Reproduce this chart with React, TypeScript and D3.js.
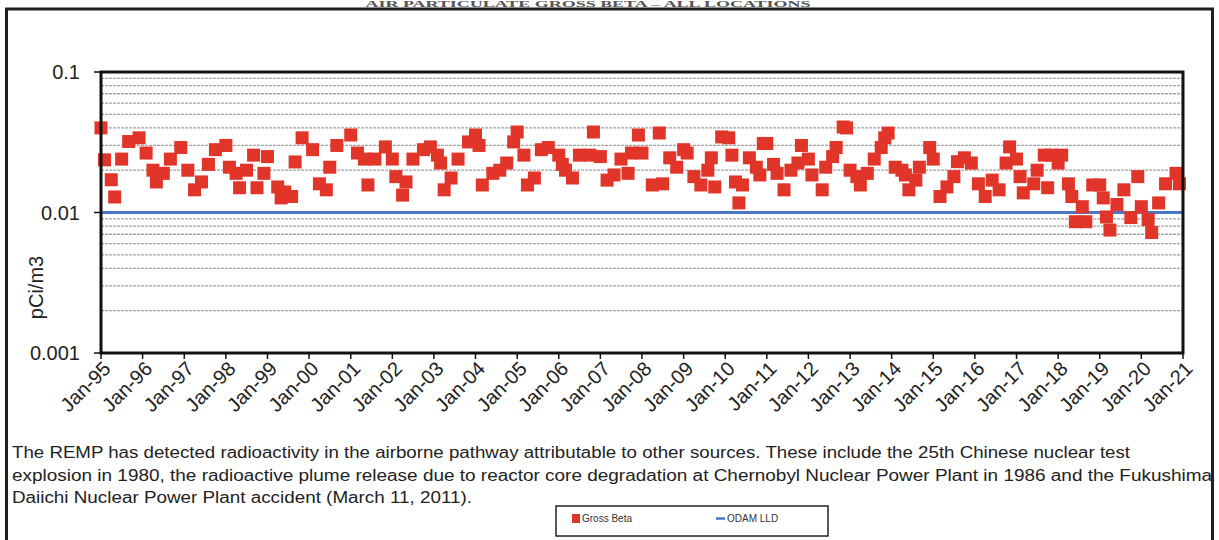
import React from "react";
import * as d3 from "d3";

// Gross beta readings (month, pCi/m3)
const grossBetaMonths = [
  "1995-01", "1995-02", "1995-04", "1995-05", "1995-07", "1995-09", "1995-12",
  "1996-02", "1996-04", "1996-05", "1996-07", "1996-09", "1996-12",
  "1997-02", "1997-04", "1997-06", "1997-08", "1997-10",
  "1998-01", "1998-02", "1998-04", "1998-05", "1998-07", "1998-09", "1998-10", "1998-12",
  "1999-01", "1999-04", "1999-05", "1999-06", "1999-08", "1999-09", "1999-11",
  "2000-02", "2000-04", "2000-06", "2000-07", "2000-09",
  "2001-01", "2001-03", "2001-05", "2001-06", "2001-08", "2001-11",
  "2002-01", "2002-02", "2002-04", "2002-05", "2002-07", "2002-10", "2002-12",
  "2003-02", "2003-03", "2003-04", "2003-06", "2003-08", "2003-11",
  "2004-01", "2004-02", "2004-03", "2004-06", "2004-08", "2004-10", "2004-12",
  "2005-01", "2005-03", "2005-04", "2005-06", "2005-08", "2005-10",
  "2006-01", "2006-02", "2006-03", "2006-05", "2006-07", "2006-10", "2006-11",
  "2007-01", "2007-03", "2007-05", "2007-07", "2007-09", "2007-10", "2007-12",
  "2008-01", "2008-04", "2008-06", "2008-07", "2008-09", "2008-11",
  "2009-01", "2009-02", "2009-04", "2009-06", "2009-08", "2009-09", "2009-10", "2009-12",
  "2010-02", "2010-03", "2010-04", "2010-05", "2010-06", "2010-08", "2010-10", "2010-11", "2010-12",
  "2011-01", "2011-03", "2011-04", "2011-06", "2011-08", "2011-10", "2011-11",
  "2012-01", "2012-02", "2012-05", "2012-06", "2012-08", "2012-09", "2012-11", "2012-12",
  "2013-01", "2013-03", "2013-04", "2013-06", "2013-08", "2013-10", "2013-11", "2013-12",
  "2014-02", "2014-04", "2014-05", "2014-06", "2014-08", "2014-09", "2014-12",
  "2015-01", "2015-03", "2015-05", "2015-07", "2015-08", "2015-10", "2015-12",
  "2016-02", "2016-04", "2016-06", "2016-08", "2016-10", "2016-11",
  "2017-01", "2017-02", "2017-03", "2017-06", "2017-07", "2017-09", "2017-10", "2017-11",
  "2018-01", "2018-02", "2018-04", "2018-05", "2018-06", "2018-08", "2018-09", "2018-11",
  "2019-01", "2019-02", "2019-03", "2019-04", "2019-06", "2019-08", "2019-10", "2019-12",
  "2020-01", "2020-03", "2020-04", "2020-06", "2020-08", "2020-11", "2020-12",
];

const grossBetaValues = [
  0.040, 0.0237, 0.0171, 0.0129, 0.024, 0.032, 0.034,
  0.0265, 0.020, 0.0165, 0.019, 0.024, 0.029,
  0.020, 0.0145, 0.0165, 0.022, 0.028,
  0.030, 0.021, 0.019, 0.015, 0.020, 0.0256, 0.015, 0.019,
  0.025, 0.0152, 0.0127, 0.014, 0.013, 0.0229, 0.034,
  0.028, 0.016, 0.0145, 0.021, 0.030,
  0.0356, 0.0265, 0.024, 0.0157, 0.024, 0.0293,
  0.024, 0.018, 0.0133, 0.0165, 0.024, 0.028, 0.0293,
  0.0256, 0.0225, 0.0145, 0.0176, 0.024, 0.0318,
  0.0356, 0.030, 0.0157, 0.019, 0.020, 0.0225, 0.0318,
  0.0374, 0.0256, 0.0157, 0.0176, 0.028, 0.029,
  0.0256, 0.022, 0.020, 0.0176, 0.0256, 0.0256, 0.0374,
  0.025, 0.017, 0.0185, 0.024, 0.019, 0.0265, 0.0356,
  0.0265, 0.0157, 0.0368, 0.016, 0.0245, 0.021,
  0.028, 0.0265, 0.018, 0.0157, 0.020, 0.0245, 0.0152, 0.0345,
  0.034, 0.0256, 0.0165, 0.0117, 0.0157, 0.0245, 0.021, 0.0185, 0.031,
  0.031, 0.022, 0.019, 0.0145, 0.020, 0.0225, 0.030,
  0.024, 0.0185, 0.0145, 0.021, 0.025, 0.029, 0.0406, 0.040,
  0.020, 0.018, 0.0157, 0.019, 0.024, 0.029, 0.034, 0.0368,
  0.021, 0.020, 0.0185, 0.0145, 0.017, 0.021, 0.029,
  0.024, 0.013, 0.0152, 0.018, 0.023, 0.0245, 0.0225,
  0.016, 0.013, 0.017, 0.0145, 0.0225, 0.0293,
  0.024, 0.018, 0.0138, 0.016, 0.020, 0.0256, 0.015, 0.0256,
  0.0225, 0.0256, 0.016, 0.013, 0.0086, 0.011, 0.0086, 0.0157,
  0.0157, 0.0127, 0.0093, 0.0075, 0.0114, 0.0145, 0.0092, 0.018,
  0.011, 0.0089, 0.0072, 0.0117, 0.016, 0.019, 0.016,
];

const lldValue = 0.01;
const yTickValues = [0.001, 0.01, 0.1];
const seriesNames = ["Gross Beta", "ODAM LLD"];
const titleText = "AIR PARTICULATE GROSS BETA \u2013 ALL LOCATIONS";
const noteLines = [
  "The REMP has detected radioactivity in the airborne pathway attributable to other sources. These include the 25th Chinese nuclear test",
  "explosion  in 1980, the radioactive plume release due to reactor core degradation at Chernobyl Nuclear Power Plant in 1986 and the Fukushima",
  "Daiichi Nuclear Power Plant accident (March 11, 2011).",
];
const noteWidths = [1118, 1200, 460];

const W = 1219;
const H = 540;
const plot = { left: 101, right: 1183, top: 72, bottom: 353 };
const RED = "#e2352a";
const BLUE = "#4a76c6";
const FONT = "Arial, 'Liberation Sans', sans-serif";

const parseMonth = d3.timeParse("%Y-%m");
const fmt = d3.timeFormat("%b-%y");

export default function App() {
  const x = d3
    .scaleTime()
    .domain([new Date(1995, 0, 1), new Date(2021, 0, 1)])
    .range([plot.left, plot.right]);
  const y = d3
    .scaleLog()
    .domain([0.001, 0.1])
    .range([plot.bottom, plot.top]);

  const yearTicks = x.ticks(d3.timeYear.every(1));

  // minor gridlines 2..9 of each decade plus the top
  const grid: number[] = [];
  [0.001, 0.01].forEach((d) => {
    for (let k = 2; k <= 9; k++) grid.push(d * k);
  });
  grid.push(0.1);

  const points = grossBetaMonths.map((m, i) => ({
    date: parseMonth(m) as Date,
    value: grossBetaValues[i],
  }));
  const sz = 13;

  return (
    <svg
      width={W}
      height={H}
      style={{ position: "absolute", left: 0, top: 0, background: "#fff" }}
      fontFamily={FONT}
    >
      <text
        x={588}
        y={7}
        textAnchor="middle"
        fontFamily="'Liberation Serif', serif"
        fontWeight="bold"
        fontSize={9}
        textLength={445}
        lengthAdjust="spacingAndGlyphs"
        fill="#555"
      >
        {titleText}
      </text>
      <rect x={6.5} y={9} width={1206} height={560} fill="none" stroke="#1f1f1f" strokeWidth={3} />

      {/* gridlines */}
      {grid.map((g) => (
        <line
          key={g}
          x1={plot.left}
          x2={plot.right}
          y1={y(g)}
          y2={y(g)}
          stroke="#a4a4a4"
          strokeWidth={1.3}
          strokeDasharray="3,1"
        />
      ))}

      {/* LLD line */}
      <line
        x1={plot.left}
        x2={plot.right}
        y1={y(lldValue)}
        y2={y(lldValue)}
        stroke={BLUE}
        strokeWidth={3}
      />

      {/* gross beta markers */}
      {points.map((p, i) => (
        <rect
          key={i}
          x={x(p.date) - sz / 2}
          y={y(p.value) - sz / 2}
          width={sz}
          height={sz}
          fill={RED}
        />
      ))}

      {/* plot frame */}
      <rect
        x={plot.left}
        y={plot.top}
        width={plot.right - plot.left}
        height={plot.bottom - plot.top}
        fill="none"
        stroke="#111"
        strokeWidth={3}
      />

      {/* y axis */}
      {yTickValues.map((t) => (
        <g key={t}>
          <line x1={plot.left - 7} x2={plot.left} y1={y(t)} y2={y(t)} stroke="#111" strokeWidth={1.5} />
          <text x={80} y={y(t)} dy="0.35em" textAnchor="end" fontSize={20} fill="#222">
            {String(t)}
          </text>
        </g>
      ))}
      <text
        transform={`translate(36,${(plot.top + plot.bottom) / 2 + 75}) rotate(-90)`}
        textAnchor="middle"
        dy="0.35em"
        fontSize={20}
        fill="#222"
      >
        pCi/m3
      </text>

      {/* x axis */}
      {yearTicks.map((t) => (
        <g key={+t}>
          <line x1={x(t)} x2={x(t)} y1={plot.bottom} y2={plot.bottom + 6} stroke="#111" strokeWidth={1.5} />
          <text
            transform={`translate(${x(t) + 6},${plot.bottom + 12}) rotate(-45)`}
            textAnchor="end"
            dy="0.35em"
            fontSize={20}
            fill="#222"
          >
            {fmt(t)}
          </text>
        </g>
      ))}

      {/* note */}
      {noteLines.map((l, i) => (
        <text
          key={i}
          x={12}
          y={458 + i * 22.5}
          fontSize={16}
          fill="#222"
          textLength={noteWidths[i]}
          lengthAdjust="spacingAndGlyphs"
        >
          {l}
        </text>
      ))}

      {/* legend */}
      <rect x={556} y={506} width={272} height={30} fill="#fff" stroke="#222" strokeWidth={1.5} />
      <rect x={572} y={514} width={8} height={9} fill={RED} />
      <text x={582} y={522} fontSize={10} fill="#333">
        {seriesNames[0]}
      </text>
      <line x1={716} x2={725} y1={518.5} y2={518.5} stroke={BLUE} strokeWidth={2.5} />
      <text x={727} y={522} fontSize={10} fill="#333">
        {seriesNames[1]}
      </text>
    </svg>
  );
}
